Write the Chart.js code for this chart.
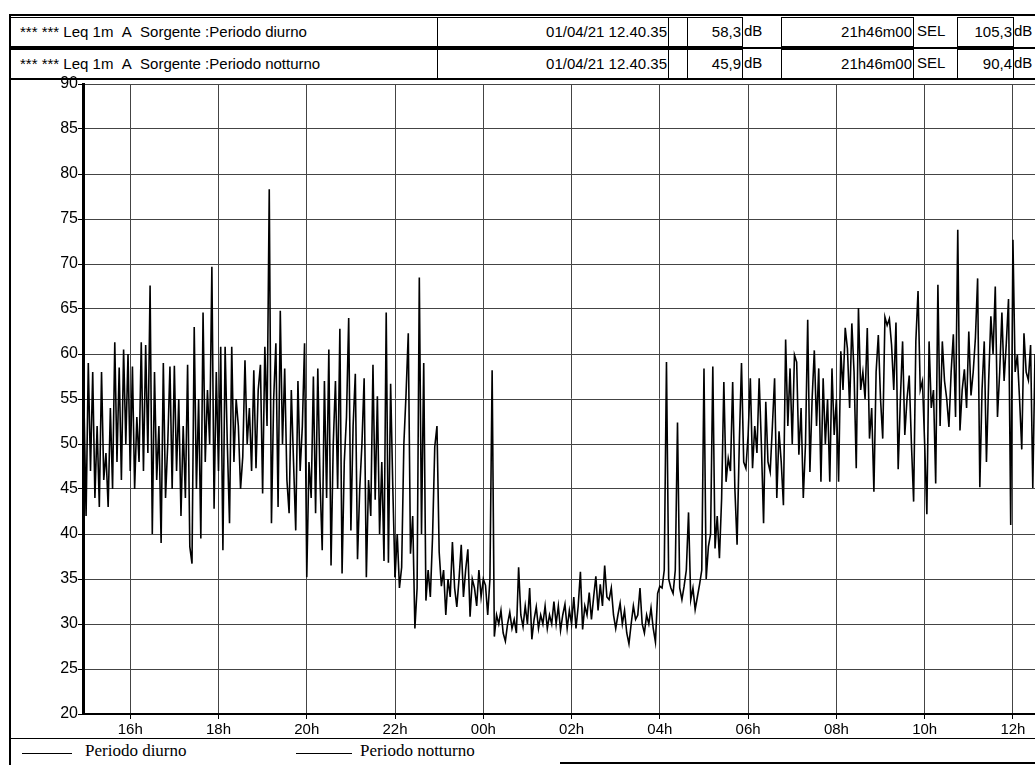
<!DOCTYPE html>
<html>
<head>
<meta charset="utf-8">
<script src="https://cdn.jsdelivr.net/npm/chart.js@4.4.1/dist/chart.umd.min.js"></script>
<style>
  body { margin: 0; background: #fff; width: 1035px; height: 765px; overflow: hidden; position: relative; font-family: "Liberation Sans", Arial, sans-serif; }
  .bx { position: absolute; box-sizing: border-box; border: 1px solid #000; font-size: 15px; line-height: 28px; height: 30px; white-space: nowrap; overflow: hidden; color: #000; }
  .r { text-align: right; padding-right: 1px; }
  .t { position: absolute; font-size: 15px; line-height: 28px; white-space: nowrap; }
  .hl { position: absolute; background: #000; }
  #wrap { position: absolute; left: 0; top: 74px; width: 1035px; height: 665px; }
  .leg { position: absolute; top: 741px; font-family: "Liberation Serif", "Times New Roman", serif; font-size: 17px; }
</style>
</head>
<body>
<div class="hl" style="left:9px;top:14px;width:2px;height:751px"></div>
<div class="hl" style="left:9px;top:14px;width:1026px;height:2px"></div>
<div class="hl" style="left:10px;top:47px;width:1025px;height:2px"></div>
<div class="hl" style="left:10px;top:78px;width:1025px;height:2px"></div>

<div class="bx" style="left:10px;top:17px;width:428px;padding-left:9px">*** *** Leq 1m&nbsp;&nbsp;A&nbsp;&nbsp;Sorgente :Periodo diurno</div>
<div class="bx r" style="left:437px;top:17px;width:232px">01/04/21 12.40.35</div>
<div class="bx" style="left:668px;top:17px;width:20px"></div>
<div class="bx r" style="left:687px;top:17px;width:56px">58,3</div>
<div class="t" style="left:744px;top:17px">dB</div>
<div class="bx r" style="left:781px;top:17px;width:133px">21h46m00</div>
<div class="t" style="left:917px;top:17px">SEL</div>
<div class="bx r" style="left:957px;top:17px;width:57px">105,3</div>
<div class="t" style="left:1014px;top:17px">dB</div>

<div class="bx" style="left:10px;top:49px;width:428px;padding-left:9px">*** *** Leq 1m&nbsp;&nbsp;A&nbsp;&nbsp;Sorgente :Periodo notturno</div>
<div class="bx r" style="left:437px;top:49px;width:232px">01/04/21 12.40.35</div>
<div class="bx" style="left:668px;top:49px;width:20px"></div>
<div class="bx r" style="left:687px;top:49px;width:56px">45,9</div>
<div class="t" style="left:744px;top:49px">dB</div>
<div class="bx r" style="left:781px;top:49px;width:133px">21h46m00</div>
<div class="t" style="left:917px;top:49px">SEL</div>
<div class="bx r" style="left:957px;top:49px;width:57px">90,4</div>
<div class="t" style="left:1014px;top:49px">dB</div>

<div id="wrap"><canvas id="chart"></canvas></div>

<div class="hl" style="left:10px;top:738px;width:1025px;height:1px"></div>
<div class="hl" style="left:560px;top:762px;width:475px;height:2px"></div>
<div class="hl" style="left:22px;top:753px;width:50px;height:1px"></div>
<div class="leg" style="left:85px">Periodo diurno</div>
<div class="hl" style="left:296px;top:753px;width:56px;height:1px"></div>
<div class="leg" style="left:360px">Periodo notturno</div>

<script>
// hours of the x axis (24+ = next day)
const hourTicks = [16, 18, 20, 22, 24, 26, 28, 30, 32, 34, 36];
const stepMin = 3;

// Leq 1m, one value every 3 minutes
const diurnoStart = 14.95; // 14:57
const diurnoPM = [
  55, 42, 59, 47, 58, 44, 52, 43, 58, 46,
  49, 43, 54, 45, 61.3, 48, 58.5, 46, 60.5, 50,
  60, 47, 58.6, 45, 53, 48, 61.3, 47, 61, 49,
  67.6, 40, 58, 46, 52, 39, 59, 44, 50, 58.6,
  45, 58.7, 47, 55, 42, 52, 44, 58.8, 38.6, 36.7,
  63, 45, 55, 39.5, 64.6, 48, 56, 50, 69.7, 42.8,
  58, 47, 60.8, 38.2, 60.8, 50, 41.2, 60.8, 48, 55,
  52, 45, 48.6, 59.3, 50, 54, 47, 58.2, 47.3, 56,
  58.8, 44.5, 60.8, 52, 78.3, 41.2, 55, 61.2, 43, 64.8,
  50, 58.4, 46, 42.3, 56, 48, 40.4, 57, 47, 52,
  61.2, 35.2, 48, 44, 57.5, 42.3, 58.4, 46, 38.2, 57,
  44, 60.5, 36.5, 50, 57, 45, 62.8, 35.6, 48, 53,
  64, 40.4, 52, 57.8, 37.2, 45, 50, 57.3, 35.2, 46,
  42, 58.8, 43.8, 55.3, 40, 48, 37, 64.6, 36.8, 56.7,
  45, 35.2
];

const notturnoStart = 22.0;
const notturno = [
  35.2, 40, 34, 36.3, 50, 55.6, 62.3, 37.8, 42, 29.5,
  34, 68.5, 40, 59, 32.6, 36, 33, 39.7, 49.7, 52,
  38, 34.2, 36, 31, 35, 33, 39.1, 34, 31.9, 35,
  38.8, 33, 36, 38.3, 30.8, 35, 34, 32, 36, 33,
  35, 34.3, 31, 35, 58.2, 28.6, 31, 30, 31.5, 29,
  28.1, 30, 31.3, 29.5, 30.5, 29, 36.3, 31, 29.7, 32,
  30, 34, 28.3, 30.5, 31.9, 29.5, 31, 30, 32, 29.5,
  31, 30, 32.5, 30, 32, 29.3, 31, 32.2, 29.5, 31.5,
  30, 33, 29.5, 32, 35.8, 29.4, 32, 31, 33.5, 30.5,
  33, 35.3, 31.5, 34.4, 32, 36.5, 33, 32.7, 34, 31,
  29.5, 31, 32.3, 30, 31.5, 29, 27.8, 30, 32, 30.5,
  31, 34, 30, 29, 31, 30, 31.8, 29.5, 28, 33.4,
  34.2, 34, 36, 59.1, 35, 34, 33.4, 36, 52.4, 34,
  32.7, 34.2, 36, 42.4, 32.7, 34, 31.6, 33, 34.4, 36,
  58.4, 35, 38.6, 40, 58.6, 38.4, 42, 37.3, 44, 56.9,
  45.8, 48.4, 47, 56.9, 45, 38.8, 50, 59, 48, 47.3,
  51
];

const diurnoAMStart = 30.0; // 06:00
const diurnoAM = [
  51, 57.3, 47.3, 52, 49, 57.3, 50, 41.2, 54.7, 48,
  46.9, 52, 57.3, 44, 51.4, 48, 43.2, 61.6, 52, 58.4,
  50, 59.9, 59.1, 48.8, 54, 44, 50, 63.8, 46.9, 55,
  60.4, 52, 58.4, 45.8, 57.3, 50, 55, 45.8, 58.4, 51,
  55, 45.8, 60.3, 56, 62.9, 60.6, 54, 63.4, 58, 47.3,
  65.1, 56, 58, 55, 62.9, 50.6, 54, 44.7, 58, 62.1,
  55, 50.6, 64.1, 63.2, 63.9, 61, 56, 63.5, 47.2, 55,
  61.4, 51, 55, 57.6, 50, 43.6, 61.4, 67, 56, 57,
  50, 42.2, 61.4, 54, 56, 45.6, 67.7, 52, 61.4, 57,
  55, 51.9, 58, 62.2, 53, 73.8, 51.5, 56, 58.3, 54,
  62.5, 55.4, 58, 61.8, 68.4, 45.2, 56, 61.4, 48, 57,
  64.2, 60, 67.5, 53, 58, 64.6, 57, 61.2, 66.1, 41,
  72.7, 58, 59.9, 55, 49.4, 62.3, 58, 57.1, 61, 45.1,
  60, 56, 62, 58
];

function toPoints(start, values) {
  return values.map((v, i) => ({ x: start + i * stepMin / 60, y: v }));
}

function lineSet(label, start, values) {
  return {
    label: label,
    data: toPoints(start, values),
    borderColor: '#000',
    borderWidth: 1.6,
    pointRadius: 0,
    tension: 0
  };
}

Chart.defaults.font.family = '"Liberation Sans", Arial, sans-serif';
Chart.defaults.color = '#000';

new Chart(document.querySelector('#chart').getContext('2d'), {
  type: 'line',
  data: {
    datasets: [
      lineSet('Periodo diurno', diurnoStart, diurnoPM),
      lineSet('Periodo notturno', notturnoStart, notturno),
      lineSet('Periodo diurno', diurnoAMStart, diurnoAM)
    ]
  },
  options: {
    responsive: true,
    maintainAspectRatio: false,
    animation: false,
    layout: { padding: { top: 10, right: 0, left: 0, bottom: 0 } },
    plugins: { legend: { display: false }, tooltip: { enabled: false } },
    scales: {
      x: {
        type: 'linear',
        min: 14.93,
        max: 36.5,
        afterBuildTicks: scale => { scale.ticks = hourTicks.map(h => ({ value: h })); },
        afterFit: scale => { scale.height = 25; },
        ticks: {
          font: { size: 15 },
          padding: 2,
          maxRotation: 0,
          callback: v => String(v % 24).padStart(2, '0') + 'h'
        },
        grid: { color: '#444', lineWidth: 1, tickLength: 5, tickColor: '#000' },
        border: { color: '#000', width: 2 }
      },
      y: {
        min: 20,
        max: 90,
        afterFit: scale => { scale.width = 83; },
        ticks: { stepSize: 5, font: { size: 16 }, padding: 0 },
        grid: { color: '#444', lineWidth: 1, tickLength: 5, tickColor: '#000' },
        border: { color: '#000', width: 3 }
      }
    }
  }
});
</script>
</body>
</html>
